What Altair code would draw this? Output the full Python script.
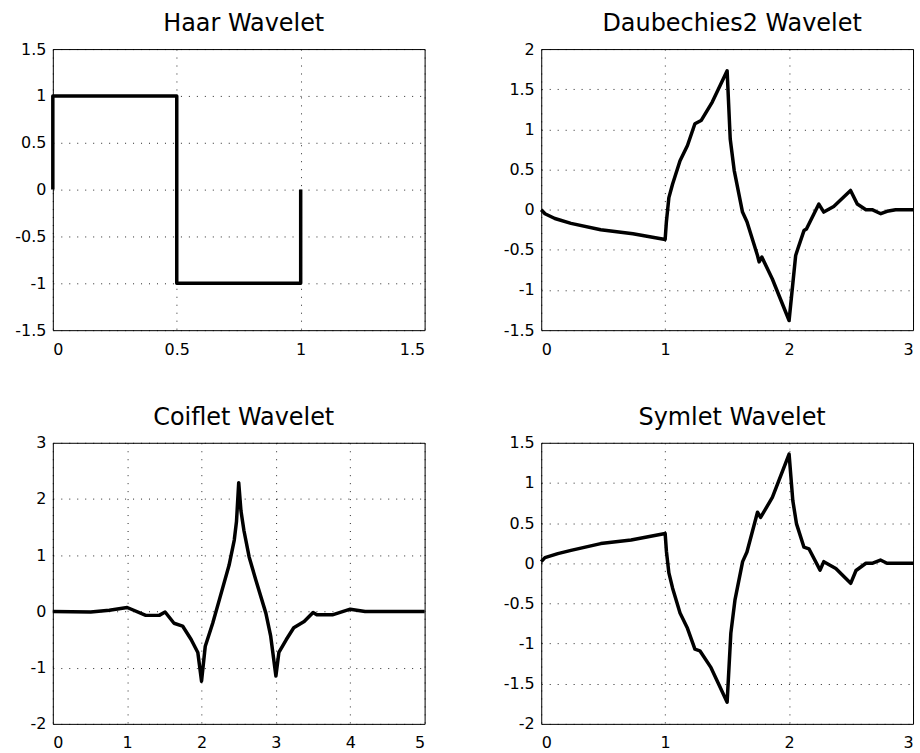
import altair as alt
import pandas as pd

# Haar wavelet
haar_t = [0, 0, 0.5, 0.5, 1, 1]
haar_v = [0, 1, 1, -1, -1, 0]

# Daubechies2 wavelet
db_t = [0, 0.03, 0.11, 0.24, 0.48, 0.74, 1.0, 1.01, 1.03, 1.06, 1.12, 1.18, 1.24, 1.29,
        1.38, 1.50, 1.525, 1.557, 1.624, 1.66, 1.745, 1.758, 1.78, 1.864, 2.0, 2.053,
        2.07, 2.12, 2.14, 2.24, 2.28, 2.36, 2.496, 2.55, 2.62, 2.67, 2.74, 2.79, 2.86, 3.0]
db_v = [0.0, -0.05, -0.11, -0.17, -0.25, -0.30, -0.37, -0.15, 0.15, 0.32, 0.61, 0.80, 1.07, 1.11,
        1.34, 1.73, 0.88, 0.49, -0.03, -0.15, -0.57, -0.65, -0.59, -0.86, -1.38, -0.57,
        -0.49, -0.26, -0.24, 0.07, -0.03, 0.04, 0.24, 0.07, 0.0, 0.0, -0.05, -0.02, 0.0, 0.0]

# Coiflet wavelet
coif_t = [0, 0.51, 0.76, 1.0, 1.25, 1.43, 1.51, 1.63, 1.745, 1.86, 1.95, 2.0, 2.05, 2.15,
          2.24, 2.37, 2.44, 2.47, 2.5, 2.53, 2.57, 2.64, 2.73, 2.865, 2.93, 3.0, 3.04, 3.14,
          3.24, 3.38, 3.5, 3.55, 3.76, 4.0, 4.2, 5.0]
coif_v = [0, -0.01, 0.02, 0.07, -0.07, -0.07, -0.01, -0.21, -0.26, -0.50, -0.73, -1.24, -0.62, -0.21,
          0.21, 0.82, 1.27, 1.6, 2.29, 1.79, 1.44, 0.97, 0.56, -0.03, -0.44, -1.15, -0.73, -0.50,
          -0.29, -0.18, -0.02, -0.06, -0.06, 0.04, 0.0, 0.0]

# Symlet wavelet
sym_t = [0, 0.03, 0.134, 0.24, 0.48, 0.725, 1.0, 1.01, 1.03, 1.06, 1.12, 1.18, 1.24, 1.28,
         1.37, 1.5, 1.53, 1.563, 1.625, 1.66, 1.745, 1.77, 1.865, 2.0, 2.03, 2.06, 2.12, 2.16,
         2.25, 2.28, 2.377, 2.497, 2.54, 2.62, 2.67, 2.737, 2.79, 3.0]
sym_v = [0.02, 0.07, 0.12, 0.16, 0.245, 0.29, 0.37, 0.15, -0.12, -0.31, -0.62, -0.81, -1.07, -1.09,
         -1.30, -1.73, -0.87, -0.46, 0.02, 0.14, 0.635, 0.57, 0.82, 1.36, 0.78, 0.49, 0.20, 0.18,
         -0.085, 0.02, -0.065, -0.25, -0.09, 0.0, 0.0, 0.04, 0.0, 0.0]

titles = ["Haar Wavelet", "Daubechies2 Wavelet", "Coiflet Wavelet", "Symlet Wavelet"]
x_ticks = [[0, 0.5, 1, 1.5], [0, 1, 2, 3], [0, 1, 2, 3, 4, 5], [0, 1, 2, 3]]
y_ticks = [[-1.5, -1, -0.5, 0, 0.5, 1, 1.5],
           [-1.5, -1, -0.5, 0, 0.5, 1, 1.5, 2],
           [-2, -1, 0, 1, 2, 3],
           [-2, -1.5, -1, -0.5, 0, 0.5, 1, 1.5]]
series = [(haar_t, haar_v), (db_t, db_v), (coif_t, coif_v), (sym_t, sym_v)]

W, H = 373, 282
FONT = "DejaVu Sans"


def panel(k):
    t, v = series[k]
    df = pd.DataFrame({"t": t, "v": v, "i": list(range(len(t)))})
    xt, yt = x_ticks[k], y_ticks[k]
    return alt.Chart(df, title=alt.TitleParams(titles[k], dx=5)).mark_line(
        color="black", strokeWidth=3.5, strokeJoin="round", clip=False
    ).encode(
        x=alt.X("t:Q", scale=alt.Scale(domain=[xt[0], xt[-1]], nice=False, zero=False),
                axis=alt.Axis(values=xt, title=None, labelExpr="'' + datum.value")),
        y=alt.Y("v:Q", scale=alt.Scale(domain=[yt[0], yt[-1]], nice=False, zero=False),
                axis=alt.Axis(values=yt, title=None, labelExpr="'' + datum.value")),
        order="i:Q",
    ).properties(width=W, height=H)


chart = alt.concat(
    *[panel(k) for k in range(4)], columns=2, bounds="flush",
    spacing={"row": 113, "column": 117},
).properties(
    padding={"left": 14, "top": 10, "right": 4, "bottom": 5},
    background="white",
).configure_view(
    stroke="black", strokeWidth=1
).configure_axis(
    domain=False, ticks=False, grid=True, gridColor="#000", gridOpacity=0.85,
    gridDash=[1, 7], gridWidth=1, labelFont=FONT, labelFontSize=16, labelColor="black",
    labelPadding=7,
).configure_axisX(
    labelPadding=11,
).configure_title(
    font=FONT, fontSize=24, fontWeight="normal", color="black", anchor="middle",
    baseline="alphabetic", offset=5,
)

chart.save("out.html", embed_options={"renderer": "svg", "actions": False})
